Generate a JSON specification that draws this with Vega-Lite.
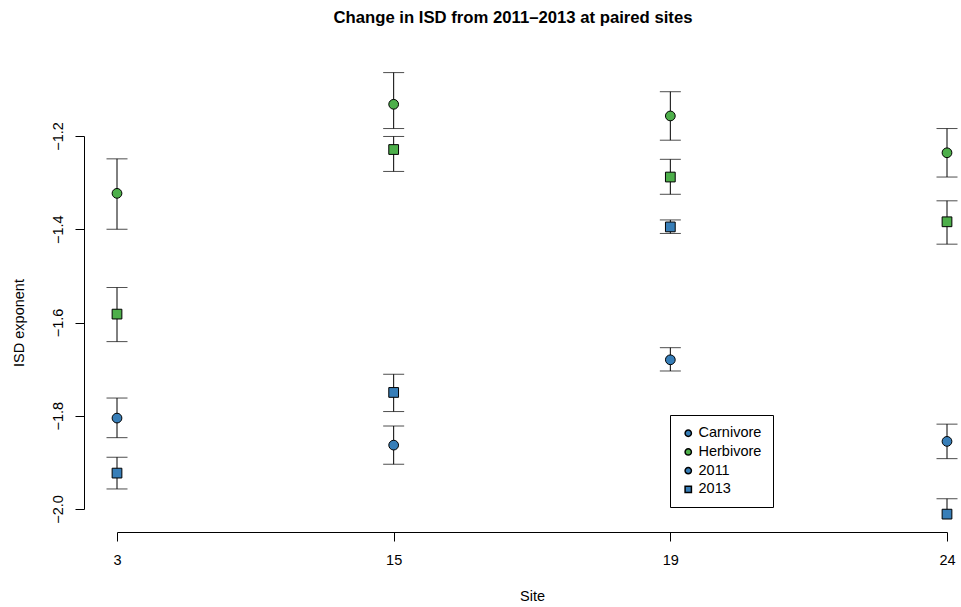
{
  "$schema": "https://vega.github.io/schema/vega-lite/v6.json",
  "autosize": {"type": "none"},
  "padding": {"left": 117, "top": 136, "right": 14, "bottom": 98},
  "width": 830,
  "height": 373,
  "background": "white",
  "title": {
    "text": "Change in ISD from 2011–2013 at paired sites",
    "font": "Liberation Sans",
    "fontSize": 16.7,
    "fontWeight": "bold",
    "color": "black",
    "anchor": "middle",
    "dx": -19,
    "offset": 45
  },
  "config": {
    "font": "Liberation Sans",
    "view": {"stroke": null},
    "axis": {
      "grid": false,
      "domainColor": "black",
      "tickColor": "black",
      "domainWidth": 1,
      "tickWidth": 1,
      "tickSize": 9,
      "labelFont": "Liberation Sans",
      "labelFontSize": 14.5,
      "labelColor": "black",
      "titleFont": "Liberation Sans",
      "titleFontSize": 14.5,
      "titleFontWeight": "normal",
      "titleColor": "black"
    }
  },
  "data": {
    "values": [
      {"site": 3, "trophic": "Herbivore", "year": "2011", "mid": -1.323, "lo": -1.400, "hi": -1.249},
      {"site": 3, "trophic": "Herbivore", "year": "2013", "mid": -1.582, "lo": -1.641, "hi": -1.525},
      {"site": 3, "trophic": "Carnivore", "year": "2011", "mid": -1.805, "lo": -1.847, "hi": -1.762},
      {"site": 3, "trophic": "Carnivore", "year": "2013", "mid": -1.923, "lo": -1.957, "hi": -1.889},
      {"site": 15, "trophic": "Herbivore", "year": "2011", "mid": -1.132, "lo": -1.184, "hi": -1.064},
      {"site": 15, "trophic": "Herbivore", "year": "2013", "mid": -1.229, "lo": -1.276, "hi": -1.201},
      {"site": 15, "trophic": "Carnivore", "year": "2011", "mid": -1.863, "lo": -1.904, "hi": -1.822},
      {"site": 15, "trophic": "Carnivore", "year": "2013", "mid": -1.750, "lo": -1.791, "hi": -1.711},
      {"site": 19, "trophic": "Herbivore", "year": "2011", "mid": -1.157, "lo": -1.209, "hi": -1.105},
      {"site": 19, "trophic": "Herbivore", "year": "2013", "mid": -1.288, "lo": -1.325, "hi": -1.250},
      {"site": 19, "trophic": "Carnivore", "year": "2011", "mid": -1.680, "lo": -1.704, "hi": -1.654},
      {"site": 19, "trophic": "Carnivore", "year": "2013", "mid": -1.395, "lo": -1.409, "hi": -1.380},
      {"site": 24, "trophic": "Herbivore", "year": "2011", "mid": -1.236, "lo": -1.288, "hi": -1.184},
      {"site": 24, "trophic": "Herbivore", "year": "2013", "mid": -1.384, "lo": -1.432, "hi": -1.339},
      {"site": 24, "trophic": "Carnivore", "year": "2011", "mid": -1.855, "lo": -1.892, "hi": -1.818},
      {"site": 24, "trophic": "Carnivore", "year": "2013", "mid": -2.011, "lo": null, "hi": -1.978}
    ]
  },
  "encoding": {
    "x": {
      "field": "site",
      "type": "ordinal",
      "scale": {"type": "point", "padding": 0},
      "axis": {
        "title": "Site",
        "labelAngle": 0,
        "offset": 23,
        "labelPadding": 12,
        "titlePadding": 23
      }
    }
  },
  "layer": [
    {
      "mark": {"type": "rule", "color": "black", "strokeWidth": 1},
      "encoding": {
        "y": {
          "field": "hi",
          "type": "quantitative",
          "scale": {"domain": [-2.0, -1.2], "zero": false, "nice": false},
          "axis": {
            "title": "ISD exponent",
            "values": [-2.0, -1.8, -1.6, -1.4, -1.2],
            "format": ".1f",
            "labelAngle": -90,
            "labelAlign": "center",
            "labelBaseline": "alphabetic",
            "labelPadding": 13,
            "offset": 33,
            "titlePadding": 24
          }
        },
        "y2": {"field": "mid"}
      }
    },
    {
      "transform": [{"filter": "isValid(datum.lo)"}],
      "mark": {"type": "rule", "color": "black", "strokeWidth": 1},
      "encoding": {
        "y": {"field": "mid", "type": "quantitative"},
        "y2": {"field": "lo"}
      }
    },
    {
      "mark": {"type": "tick", "color": "black", "size": 21, "thickness": 1, "orient": "horizontal"},
      "encoding": {"y": {"field": "hi", "type": "quantitative"}}
    },
    {
      "transform": [{"filter": "isValid(datum.lo)"}],
      "mark": {"type": "tick", "color": "black", "size": 21, "thickness": 1, "orient": "horizontal"},
      "encoding": {"y": {"field": "lo", "type": "quantitative"}}
    },
    {
      "mark": {"type": "point", "filled": true, "size": 95, "stroke": "black", "strokeWidth": 1, "opacity": 1},
      "encoding": {
        "y": {"field": "mid", "type": "quantitative"},
        "fill": {
          "field": "trophic",
          "type": "nominal",
          "scale": {
            "domain": ["Carnivore", "Herbivore", "2011", "2013"],
            "range": ["#377EB8", "#4DAF4A", "#377EB8", "#377EB8"]
          },
          "legend": {
            "title": null,
            "orient": "none",
            "legendX": 553,
            "legendY": 279,
            "strokeColor": "black",
            "fillColor": "white",
            "padding": 11,
            "symbolSize": 40,
            "labelFont": "Liberation Sans",
            "labelFontSize": 14.5,
            "labelColor": "black",
            "labelOffset": 3,
            "rowPadding": 3.7,
            "encode": {
              "symbols": {
                "update": {
                  "stroke": {"value": "#1a1a1a"},
                  "strokeWidth": {"value": 1}
                }
              }
            }
          }
        },
        "shape": {
          "field": "year",
          "type": "nominal",
          "scale": {
            "domain": ["Carnivore", "Herbivore", "2011", "2013"],
            "range": ["circle", "circle", "circle", "square"]
          },
          "legend": {
            "title": null,
            "orient": "none",
            "legendX": 553,
            "legendY": 279,
            "strokeColor": "black",
            "fillColor": "white",
            "padding": 11,
            "symbolSize": 40,
            "labelFont": "Liberation Sans",
            "labelFontSize": 14.5,
            "labelColor": "black",
            "labelOffset": 3,
            "rowPadding": 3.7,
            "encode": {
              "symbols": {
                "update": {
                  "stroke": {"value": "#1a1a1a"},
                  "strokeWidth": {"value": 1}
                }
              }
            }
          }
        }
      }
    }
  ]
}
